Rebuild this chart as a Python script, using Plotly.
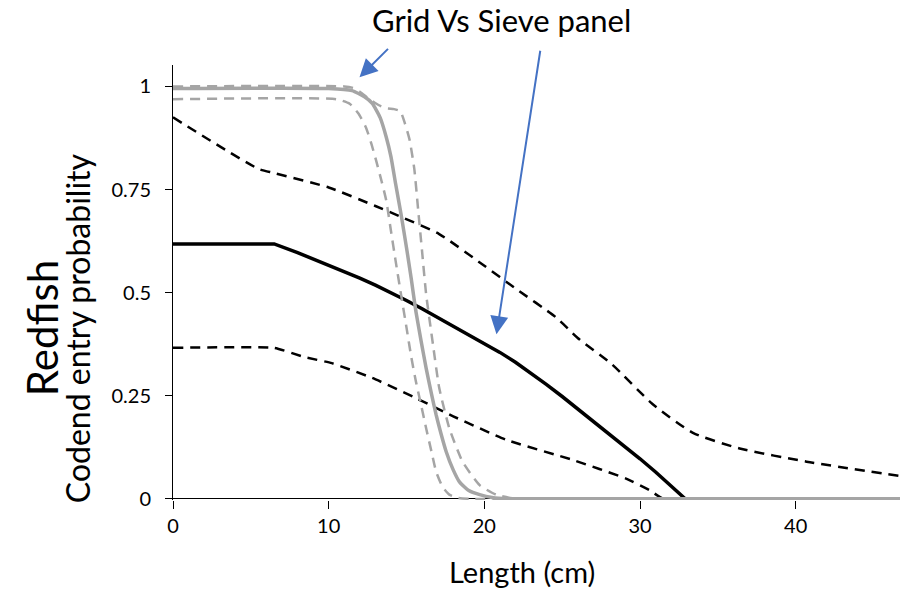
import plotly.graph_objects as go

# Length classes (cm) and codend entry probabilities, redfish
# Black: one gear configuration, mean with confidence band
black_mean_x = [0, 6.5, 8, 10, 12, 13, 14, 15, 16, 17, 18, 19, 20, 21, 22, 23, 24, 25, 26, 27,
                28, 29, 30, 31, 32, 32.9, 46.7]
black_mean_y = [0.618, 0.618, 0.597, 0.567, 0.535, 0.518, 0.500, 0.481, 0.461, 0.440, 0.419, 0.398,
                0.377, 0.355, 0.331, 0.305, 0.277, 0.248, 0.218, 0.188, 0.158, 0.128, 0.097, 0.065,
                0.032, 0.0, 0.0]

black_upper_x = [0, 5.5, 6.5, 10, 13, 14.5, 17.1, 20, 22, 24.6, 26, 28.2, 30.8, 33.4, 36.4, 40.7, 46.7]
black_upper_y = [0.925, 0.80, 0.79, 0.755, 0.71, 0.686, 0.642, 0.565, 0.51, 0.44, 0.39, 0.326,
                 0.23, 0.16, 0.122, 0.090, 0.055]

black_lower_x = [0, 6.5, 8.5, 10.2, 12.8, 15.4, 18, 21.4, 25.7, 29.1, 30.6, 31.5, 46.7]
black_lower_y = [0.366, 0.366, 0.343, 0.329, 0.293, 0.248, 0.2, 0.143, 0.094, 0.049, 0.021, 0.0, 0.0]

# Grey: Grid Vs Sieve panel, mean with confidence band
grey_mean_x = [0, 10, 11.5, 12.3, 12.8, 13.3, 13.7, 14.0, 14.3, 14.65, 15.0, 15.3, 15.6, 15.95,
               16.26, 16.6, 16.9, 17.2, 17.55, 18.0, 18.4, 19.0, 19.7, 20.5, 21.5, 46.7]
grey_mean_y = [0.995, 0.995, 0.99, 0.975, 0.959, 0.925, 0.877, 0.83, 0.764, 0.69, 0.609, 0.535, 0.455, 0.38,
               0.317, 0.255, 0.204, 0.16, 0.114, 0.07, 0.041, 0.02, 0.01, 0.003, 0.0, 0.0]

grey_lower_x = [0, 10.5, 11.35, 11.9, 12.4, 12.75, 13.05, 13.4, 13.7, 14.0, 14.3, 14.65, 15.0, 15.3,
                15.6, 15.95, 16.26, 16.6, 16.9, 17.3, 17.75, 18.3, 19, 46.7]
grey_lower_y = [0.969, 0.969, 0.958, 0.935, 0.90, 0.86, 0.82, 0.77, 0.723, 0.65, 0.577, 0.495, 0.415, 0.345,
                0.285, 0.225, 0.171, 0.115, 0.066, 0.03, 0.01, 0.002, 0.0, 0.0]

grey_upper_x = [0, 11, 11.6, 12.0, 12.6, 13.2, 13.7, 14.2, 14.6, 14.9, 15.2, 15.5, 15.75, 16.0,
                16.26, 16.7, 17.1, 17.75, 18.6, 19.7, 20.75, 22, 46.7]
grey_upper_y = [1.0, 1.0, 0.996, 0.987, 0.97, 0.955, 0.947, 0.945, 0.94, 0.91, 0.87, 0.80, 0.70, 0.60,
                0.496, 0.374, 0.269, 0.171, 0.09, 0.033, 0.01, 0.0, 0.0]

y_ticks = [0, 0.25, 0.5, 0.75, 1]
y_tick_text = ["0", "0.25", "0.5", "0.75", "1"]
x_ticks = [0, 10, 20, 30, 40]

BLACK = "#000000"
GREY = "#A5A5A5"
ARROW = "#4472C4"
FONT = "Lato, Carlito, sans-serif"
DASH = "10px,7px"

fig = go.Figure()

fig.add_trace(go.Scatter(x=black_upper_x, y=black_upper_y, mode="lines",
                         line=dict(color=BLACK, width=2.5, dash=DASH, shape="spline", smoothing=0.6)))
fig.add_trace(go.Scatter(x=black_lower_x, y=black_lower_y, mode="lines",
                         line=dict(color=BLACK, width=2.5, dash=DASH, shape="spline", smoothing=0.4)))
fig.add_trace(go.Scatter(x=black_mean_x, y=black_mean_y, mode="lines",
                         line=dict(color=BLACK, width=3.5)))
fig.add_trace(go.Scatter(x=grey_upper_x, y=grey_upper_y, mode="lines",
                         line=dict(color=GREY, width=2.5, dash=DASH, shape="spline", smoothing=0.5)))
fig.add_trace(go.Scatter(x=grey_lower_x, y=grey_lower_y, mode="lines",
                         line=dict(color=GREY, width=2.5, dash=DASH, shape="spline", smoothing=0.5)))
fig.add_trace(go.Scatter(x=grey_mean_x, y=grey_mean_y, mode="lines",
                         line=dict(color=GREY, width=3.5, shape="spline", smoothing=0.5)))

annotations = [
    dict(text="Grid Vs Sieve panel", xref="paper", yref="paper", x=0.4525, y=1.0,
         yshift=45, xanchor="center", yanchor="middle", showarrow=False,
         font=dict(family=FONT, size=31, color="#000000")),
    dict(text="", x=11.98, y=1.022, ax=30, ay=-30, showarrow=True,
         arrowhead=2, arrowsize=1.8, arrowwidth=2, arrowcolor=ARROW),
    dict(text="", x=20.78, y=0.399, ax=44, ay=-285, showarrow=True,
         arrowhead=2, arrowsize=1.8, arrowwidth=2, arrowcolor=ARROW),
    dict(text="Length (cm)", xref="paper", yref="paper", x=0.48, y=0,
         yshift=-71, xanchor="center", yanchor="middle", showarrow=False,
         font=dict(family=FONT, size=29, color="#000000")),
    dict(text="Codend entry probability", xref="paper", yref="paper", x=0, y=0.395,
         xshift=-96, textangle=-90, xanchor="center", yanchor="middle", showarrow=False,
         font=dict(family=FONT, size=32, color="#000000")),
    dict(text="Redfish", xref="paper", yref="paper", x=0, y=0.395,
         xshift=-131, textangle=-90, xanchor="center", yanchor="middle", showarrow=False,
         font=dict(family=FONT, size=42, color="#000000")),
]

fig.update_layout(
    width=901, height=593,
    margin=dict(l=173, r=1, t=65, b=93),
    plot_bgcolor="white", paper_bgcolor="white",
    showlegend=False,
    font=dict(family=FONT, size=20, color="#000000"),
    annotations=annotations,
    xaxis=dict(range=[0, 46.7], tickvals=x_ticks, ticks="outside", ticklen=8,
               tickcolor="#000000", showgrid=False, zeroline=False, showline=False,
               tickfont=dict(family=FONT, size=20)),
    yaxis=dict(range=[-0.003, 1.052], tickvals=y_ticks, ticktext=y_tick_text,
               ticks="outside", ticklen=7, tickcolor="#000000",
               showgrid=False, showline=True, linecolor="#000000", linewidth=1,
               zeroline=True, zerolinecolor="#000000", zerolinewidth=1,
               ticklabelstandoff=10, tickfont=dict(family=FONT, size=20)),
)

fig.write_html("out.html")
